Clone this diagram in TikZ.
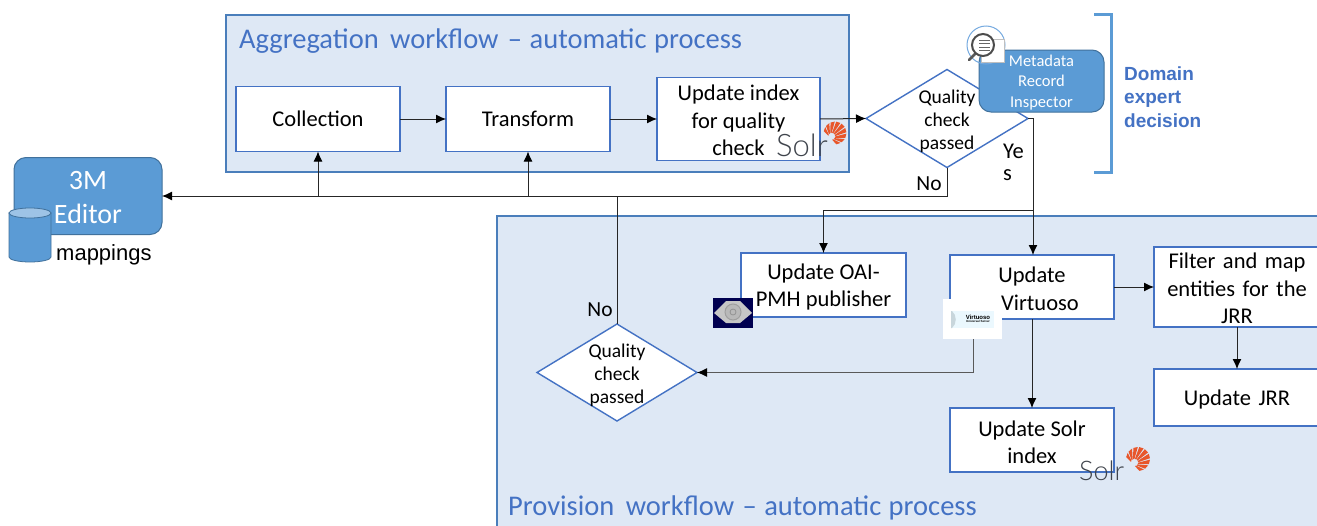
\documentclass[tikz,border=0pt]{standalone}
\usepackage{fontspec}
\setmainfont{Carlito}
\newfontfamily\arialf{Liberation Sans}
\newfontfamily\latof{Lato Light}
\usetikzlibrary{shapes.geometric,arrows.meta,calc}
\definecolor{panelfill}{HTML}{DEE8F5}
\definecolor{panelline}{HTML}{4A7EBB}
\definecolor{boxline}{HTML}{4472C4}
\definecolor{bluefill}{HTML}{5B9BD5}
\definecolor{blueedge}{HTML}{41719C}
\definecolor{titleblue}{HTML}{4472C4}
\definecolor{solror}{HTML}{E8562A}
\definecolor{solrgr}{HTML}{3F444C}
\newcommand{\dnrule}[1]{\rule{0pt}{#1pt}}
\tikzset{
  panel/.style={draw=panelline,fill=panelfill,line width=1.2pt},
  panelttl/.style={anchor=west,inner sep=0pt,text=titleblue,font=\fontsize{28.5}{32}\selectfont},
  wfbox/.style={draw=boxline,fill=white,line width=1.3pt,outer sep=0pt,inner sep=0pt,align=center,font=\fontsize{22.5}{27.5}\selectfont},
  decide/.style={diamond,draw=boxline,fill=white,line width=1.4pt,outer sep=0pt,inner sep=0pt},
  decidetxt/.style={inner sep=0pt,align=center,font=\fontsize{19.5}{23}\selectfont},
  bluebox/.style={draw=blueedge,fill=bluefill,rounded corners=12pt,line width=1pt,outer sep=0pt,inner sep=0pt,align=center,text=white},
  conn/.style={draw=black!85,line width=1pt,-{Latex[length=10pt,width=9pt,black]}},
  plainconn/.style={draw=black!85,line width=1pt},
  lbl/.style={inner sep=0pt,font=\fontsize{21.5}{25}\selectfont},
  solrword/.style={inner sep=0pt,text=solrgr,anchor=west},
  pics/solrsun/.style={code={
    \begin{scope}[x=1pt,y=1pt]
    \coordinate (f) at (-5,-5);
    \foreach \a in {160,131,102,73,44,15,-14,-43,-72}{
      \fill[solror] ($(f)!.3!(\a+11:12)$) -- (\a+11:12) arc[start angle=\a+11,end angle=\a-11,radius=12] -- ($(f)!.3!(\a-11:12)$) -- cycle;
    }
    \end{scope}
  }}
}
\begin{document}
\begin{tikzpicture}[x=1pt,y=-1pt]
\useasboundingbox (0,0) rectangle (1317,525);
\clip (0,0) rectangle (1317,525);
\fill[white] (0,0) rectangle (1317,525);
% panels
\draw[panel] (226,15) rectangle (849,172);
\draw[panel] (497,216) rectangle (1330,535);
\node[panelttl] (aggttl) at (239,41.5) {Aggregation\hspace{5pt} workflow\hspace{3pt} –\hspace{1pt} automatic\hspace{1pt} process};
\node[panelttl] (provttl) at (508,508) {Provision\hspace{5pt} workflow\hspace{2pt} –\hspace{1pt} automatic\hspace{1pt} process};
% aggregation boxes
\node[wfbox,minimum width=164pt,minimum height=65pt] (coll) at (318,119) {Collection};
\node[wfbox,minimum width=164pt,minimum height=65pt] (trans) at (528,119) {Transform};
\node[wfbox,minimum width=163pt,minimum height=83pt] (idx) at (738.5,119) {\dnrule{19}Update index\\for quality\\check};
% provision boxes
\node[wfbox,minimum width=165pt,minimum height=64pt] (oai) at (823.5,285) {\dnrule{20}Update OAI-\\PMH publisher};
\node[wfbox,minimum width=164pt,minimum height=64pt] (virt) at (1032,287) {\dnrule{19}Update\\\hspace*{16pt}Virtuoso};
\node[wfbox,minimum width=164pt,minimum height=64pt] (solrb) at (1032,440) {\dnrule{20}Update Solr\\index};
\node[wfbox,minimum width=166pt,minimum height=80pt,text width=160pt] (filt) at (1237,287) {\dnrule{19}Filter and map\\entities for the\\JRR};
\node[wfbox,minimum width=166pt,minimum height=57pt,text width=160pt] (jrr) at (1237,397.5) {\dnrule{19}Update JRR};
% diamonds
\node[decide,minimum width=162pt,minimum height=98pt,shape aspect=1.653] (d1) at (947,118.5) {};
\node[decidetxt] (d1t) at (947,121) {Quality\\check\\passed};
\node[decide,minimum width=160pt,minimum height=97pt,shape aspect=1.649] (d2) at (617,372.5) {};
\node[decidetxt] (d2t) at (617,375) {Quality\\check\\passed};
% 3M editor
\node[bluebox,minimum width=148pt,minimum height=77pt,font=\fontsize{28}{34.5}\selectfont] (ed) at (88,196) {\dnrule{21}3M\\Editor};
\fill[bluefill,draw=blueedge,line width=.8pt] (9,213) -- (9,257) arc[x radius=21,y radius=5,start angle=180,end angle=0] -- (51,213) -- cycle;
\draw[fill=bluefill!60,draw=blueedge,line width=.8pt] (30,213) ellipse[x radius=21,y radius=5];
\node[inner sep=0pt,anchor=west,font=\arialf\fontsize{22}{25}\selectfont] (mapl) at (56,254.5) {mappings};
% connectors
\draw[conn] (coll.east) -- (trans.west);
\draw[conn] (trans.east) -- (idx.west);
\draw[conn] (idx.east) -- (d1.west);
\draw[conn] (d1.south) |- (ed.east);
\draw[conn] (coll.south |- ed.east) -- (coll.south);
\draw[conn] (trans.south |- ed.east) -- (trans.south);
\draw[plainconn] (d2.north) -- (d2.north |- ed.east);
\coordinate (jn) at (1033,118.5);
\coordinate (br) at (1033,210);
\draw[conn] (d1.east) -- (jn) -- (jn |- virt.north);
\draw[conn] (br) -| (oai.north);
\draw[conn] (virt.east) -- (virt.east -| filt.west);
\draw[conn] (filt.south) -- (jrr.north);
\draw[conn] (virt.south) -- (solrb.north);
\node[lbl,anchor=west,font=\fontsize{22.5}{25}\selectfont] (yes1) at (1003,151) {Ye};
\node[lbl,anchor=west,font=\fontsize{22.5}{25}\selectfont] (yes2) at (1003,175) {s};
\node[lbl] (no1) at (929,184) {No};
\node[lbl] (no2) at (600,310) {No};
% metadata inspector
\node[bluebox,minimum width=125pt,minimum height=62pt,font=\fontsize{16.5}{20.5}\selectfont] (meta) at (1041.5,81) {\rule{0pt}{14pt}Metadata\\Record\\Inspector};
\draw[cyan!60!blue!55,line width=1pt] (986,45) circle[radius=19];
\draw[fill=white,draw=black!25,line width=.8pt] (981,39) rectangle (1004,62);
\draw[black!65,line width=2.6pt,line cap=round] (976,53) -- (969,60);
\draw[black!70,line width=2pt,fill=white] (983,45) circle[radius=11];
\foreach \yy in {40,43.5,47,50.5}{\draw[black!60,line width=1pt] (979,\yy) -- (990,\yy);}
% bracket
\draw[bluefill,line width=3pt] (1094,14.5) -- (1111,14.5) -- (1111,172.5) -- (1094,172.5);
\node[inner sep=0pt,anchor=north west,align=left,text=titleblue,font=\arialf\bfseries\fontsize{19}{23.5}\selectfont] (domain) at (1124,66.5) {Domain\\expert\\decision};
% Solr logos
\node[solrword,font=\latof\fontsize{31}{31}\selectfont] (sw1) at (776,145) {Solr};
\pic[scale=.95] at (835,133) {solrsun};
\node[solrword,font=\latof\fontsize{27}{27}\selectfont] (sw2) at (1079,471) {Solr};
\pic at (1138,459) {solrsun};
% eye logo
\fill[black!10!blue!35!black] (713,298) rectangle (753,328);
\fill[gray!45] (714,313) -- (726,301) -- (740,301) -- (752,313) -- (740,323) -- (726,323) -- cycle;
\draw[gray!75,line width=1pt,fill=gray!55] (733,312) circle[radius=8];
\draw[gray!85,line width=.8pt] (733,312) circle[radius=3];
% virtuoso logo
\node[fill=white,inner sep=0pt,minimum width=59pt,minimum height=40pt] (vlogo) at (972.5,319) {};
\fill[cyan!8] (951,311) rectangle (994,328);
\fill[cyan!25!gray!40] (952,311) .. controls (957,315) and (957,324) .. (952,328) -- (951,328) -- (951,311) -- cycle;
\node[inner sep=0pt,align=center,font=\arialf\bfseries\fontsize{6}{4.5}\selectfont] (vtxt) at (978,319) {Virtuoso\\[-1pt]{\fontsize{3}{3}\selectfont Universal Server}};
\coordinate (vout) at (973,339);
\draw[conn,draw=black!65] (vout) |- (d2.east);
\end{tikzpicture}
\end{document}
